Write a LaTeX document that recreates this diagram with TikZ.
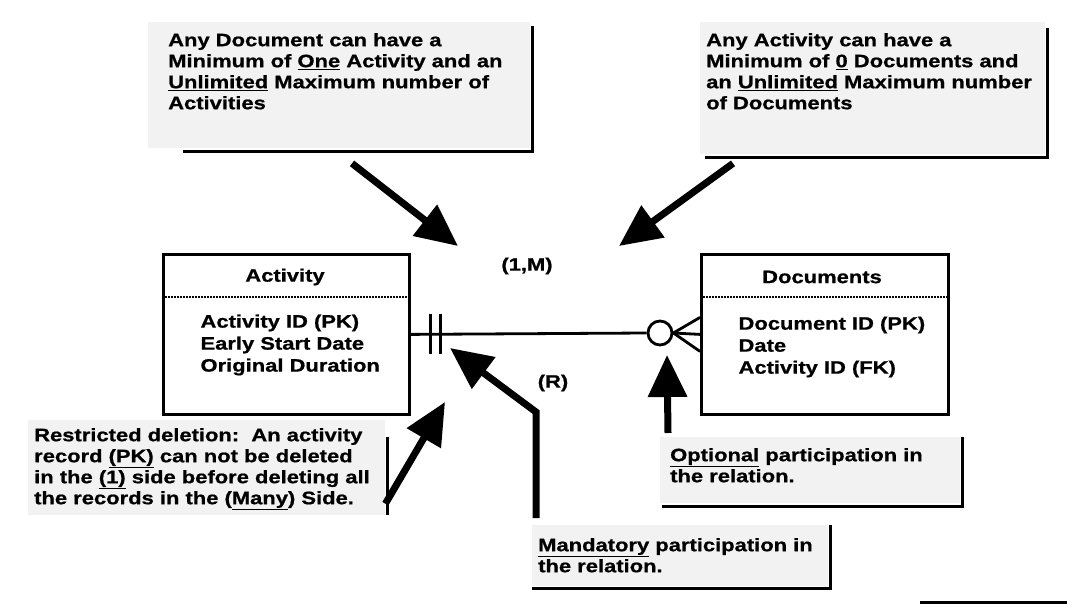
\documentclass[tikz,border=0pt]{standalone}
\usepackage{fontspec}
\newfontfamily\erfont{Liberation Sans}[FakeStretch=1.22,FakeBold=0.8]
\usetikzlibrary{arrows.meta}
\newcommand{\erfs}{\fontsize{18}{21}\selectfont}
\newcommand{\erbox}{\fontsize{18}{22}\selectfont}
\tikzset{
  ent/.style={draw,line width=2.8pt,anchor=north west,inner sep=0pt},
  hdr/.style={font=\erfont\bfseries\erbox},
  attr/.style={font=\erfont\bfseries\erbox,align=left,anchor=west},
  note/.style={fill=black!5,anchor=north west,inner ysep=0pt,font=\erfont\bfseries\erfs},
  shd/.style={line width=2.8pt},
  rel/.style={line width=2.8pt},
  dotln/.style={line width=1.8pt,dash pattern=on 1.6pt off 1.4pt},
  bigarr/.style={line width=7pt,-{Triangle[length=42pt,width=38pt]}},
  crd/.style={font=\erfont\bfseries\erfs},
}

\begin{document}
\begin{tikzpicture}[x=1pt,y=-1pt]
  \fill[white] (0,0) rectangle (1067,604);
  \useasboundingbox (0,0) rectangle (1067,604);

  % notes
  \node[note,inner xsep=20pt] (docN) at (148,22) {\parbox[c][126pt][t]{342pt}{\raggedright\rule{0pt}{24pt}Any Document can have a\\Minimum of \underline{One} Activity and an\\\underline{Unlimited} Maximum number of\\Activities}};
  \node[note,inner xsep=6pt] (actN) at (700,22) {\parbox[c][132pt][t]{333pt}{\raggedright\rule{0pt}{24pt}Any Activity can have a\\Minimum of \underline{0} Documents and\\an \underline{Unlimited} Maximum number\\of Documents}};
  \node[note,inner xsep=6pt] (resN) at (28,420) {\parbox[c][95pt][t]{345pt}{\raggedright\rule{0pt}{21pt}Restricted deletion:\ \ An activity\\record \underline{(PK)} can not be deleted\\in the \underline{(1)} side before deleting all\\the records in the (\underline{Many}) Side.}};
  \node[note,inner xsep=10pt] (optN) at (660,437) {\parbox[c][66pt][t]{280pt}{\raggedright\rule{0pt}{24pt}\underline{Optional} participation in\\the relation.}};
  \node[note,inner xsep=6pt] (manN) at (532,525) {\parbox[c][61pt][t]{284pt}{\raggedright\rule{0pt}{26pt}\underline{Mandatory} participation in\\the relation.}};
  \draw[shd] ([xshift=2pt,yshift=-4pt]docN.north east) |- ([xshift=35pt,yshift=-3pt]docN.south west);
  \draw[shd] ([xshift=2pt,yshift=-6pt]actN.north east) |- ([xshift=5pt,yshift=-3pt]actN.south west);
  \draw[shd] ([xshift=2pt,yshift=-17pt]resN.north east) -- ([xshift=2pt]resN.south east);
  \draw[shd] ([xshift=2pt]optN.north east) |- ([xshift=2pt,yshift=-3pt]optN.south west);
  \draw[shd] ([xshift=2pt]manN.north east) |- ([yshift=-2pt]manN.south west);

  % entities
  \node[ent,minimum width=246pt,minimum height=160pt] (act) at (162,253) {};
  \node[hdr] (actH) at (285,277) {Activity};
  \draw[dotln] ([yshift=-44pt]act.north west) -- ([yshift=-44pt]act.north east);
  \node[attr] (actA) at (197,345) {Activity ID (PK)\\Early Start Date\\Original Duration};
  \node[ent,minimum width=247pt,minimum height=160pt] (doc) at (700,253) {};
  \node[hdr] (docH) at (822,277) {Documents};
  \draw[dotln] ([yshift=-44pt]doc.north west) -- ([yshift=-44pt]doc.north east);
  \node[attr] (docA) at (735,347) {Document ID (PK)\\Date\\Activity ID (FK)};

  % relationship
  \node[circle,draw,line width=2.8pt,minimum size=24pt,inner sep=0pt] (zero) at (660,333) {};
  \draw[rel] (act.east) -- (zero.west);
  \draw[rel] ([xshift=20pt,yshift=20pt]act.east) -- ([xshift=20pt,yshift=-20pt]act.east);
  \draw[rel] ([xshift=30pt,yshift=20pt]act.east) -- ([xshift=30pt,yshift=-20pt]act.east);
  \draw[rel] (zero.east) -- (doc.west);
  \draw[rel] (zero.east) -- ([yshift=17pt]doc.west);
  \draw[rel] (zero.east) -- ([yshift=-17pt]doc.west);
  \node[crd] (card) at (527,266) {(1,M)};
  \node[crd] (rstr) at (553,383) {(R)};

  % arrows
  \coordinate (tipA) at (458,246);
  \coordinate (tipB) at (619,246);
  \coordinate (tipC) at (445,402);
  \coordinate (tipD) at (450,348);
  \coordinate (tipE) at (667,355);
  \draw[bigarr] ([xshift=204pt,yshift=-15pt]docN.south west) -- (tipA);
  \draw[bigarr] ([xshift=33pt,yshift=-9pt]actN.south west) -- (tipB);
  \draw[bigarr] ([yshift=-36pt]resN.east) -- (tipC);
  \draw[bigarr] ([xshift=4pt,yshift=7pt]manN.north west) -- ++(0,-106) -- (tipD);
  \draw[bigarr] ([xshift=8pt,yshift=4pt]optN.north west) -- (tipE);

  \draw[line width=3pt] (920,602) -- (1067,602);
\end{tikzpicture}
\end{document}
